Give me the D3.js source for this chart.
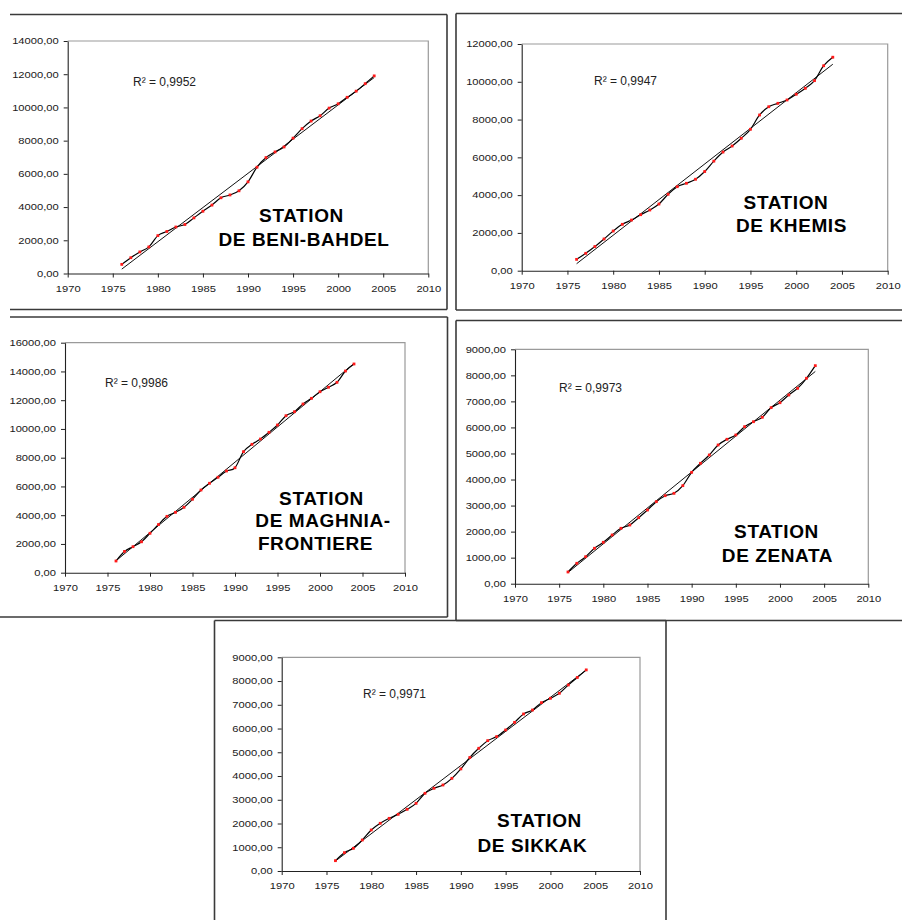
<!DOCTYPE html>
<html>
<head>
<meta charset="utf-8">
<script src="https://cdn.jsdelivr.net/npm/d3@7"></script>
<style>
  body { margin: 0; background: #fff; }
  svg { display: block; }
</style>
</head>
<body>
<svg id="fig" width="902" height="920"></svg>
<script>
// Cumulative totals per station, one value per year
const years = [1976, 1977, 1978, 1979, 1980, 1981, 1982, 1983, 1984, 1985,
               1986, 1987, 1988, 1989, 1990, 1991, 1992, 1993, 1994, 1995,
               1996, 1997, 1998, 1999, 2000, 2001, 2002, 2003, 2004];

const beniBahdel = [550, 950, 1300, 1600, 2280, 2530, 2800, 2950, 3350, 3750,
                    4120, 4560, 4730, 4980, 5520, 6400, 6980, 7320, 7620, 8150,
                    8720, 9180, 9500, 9960, 10220, 10610, 10980, 11430, 11900];

const khemis = [600, 920, 1280, 1680, 2100, 2455, 2680, 2965, 3213, 3530,
                4045, 4448, 4627, 4840, 5250, 5800, 6280, 6600, 7010, 7485,
                8243, 8680, 8860, 9037, 9340, 9655, 10060, 10850, 11300];

const maghnia = [814, 1480, 1810, 2150, 2740, 3350, 3920, 4200, 4550, 5110,
                 5750, 6220, 6640, 7075, 7300, 8420, 8930, 9300, 9765, 10275,
                 10920, 11200, 11735, 12130, 12590, 12900, 13245, 14030, 14520];

const zenata = [450, 783, 1037, 1360, 1590, 1870, 2127, 2254, 2535, 2830,
                3150, 3380, 3470, 3765, 4277, 4623, 4942, 5326, 5545, 5710,
                6030, 6220, 6390, 6760, 6950, 7247, 7504, 7888, 8372];

const sikkak = [435, 772, 955, 1305, 1727, 2008, 2218, 2387, 2597, 2850,
                3272, 3483, 3622, 3903, 4300, 4780, 5168, 5490, 5660, 5940,
                6260, 6613, 6780, 7090, 7273, 7485, 7835, 8150, 8470];

const r2Labels = ["0,9952", "0,9947", "0,9986", "0,9973", "0,9971"];

const stationTitles = [
  ["STATION", "DE BENI-BAHDEL"],
  ["STATION", "DE KHEMIS"],
  ["STATION", "DE MAGHNIA-", "FRONTIERE"],
  ["STATION", "DE ZENATA"],
  ["STATION", "DE SIKKAK"]
];

const yMaxima = [14000, 12000, 16000, 9000, 9000];
const yTickSteps = [2000, 2000, 2000, 1000, 1000];
const xTickYears = [1970, 1975, 1980, 1985, 1990, 1995, 2000, 2005, 2010];
const xDomain = [1970, 2010];

// Page layout for each of the five pasted charts
const layout = [
  { plot: { x0: 67.7, x1: 428.3, y0: 41, y1: 273.5 }, r2: [133, 86],
    titleAt: [[301.5, 221.7], [304, 246]],
    frame: [[10, 14.5, 447, 14.5], [447, 14.5, 447, 309.5], [10, 309.5, 447, 309.5]] },
  { plot: { x0: 521.7, x1: 887.7, y0: 44, y1: 270.7 }, r2: [594, 85],
    titleAt: [[786, 209.3], [791.5, 231.7]],
    frame: [[456, 13.5, 902, 13.5], [456, 13.5, 456, 310], [456, 310, 902, 310]] },
  { plot: { x0: 65, x1: 405, y0: 342.7, y1: 572.7 }, r2: [105, 386.7],
    titleAt: [[321.5, 505], [323, 526.7], [315.5, 550]],
    frame: [[10, 317, 447.5, 317], [447.5, 317, 447.5, 617], [0, 617, 447.5, 617]] },
  { plot: { x0: 515, x1: 868.3, y0: 349.3, y1: 583.7 }, r2: [559, 392],
    titleAt: [[776.5, 538], [777.5, 562]],
    frame: [[456, 320.5, 902, 320.5], [456, 320.5, 456, 620.5], [456, 620.5, 902, 620.5]] },
  { plot: { x0: 281.7, x1: 640, y0: 657.3, y1: 871 }, r2: [363, 698],
    titleAt: [[539.5, 827], [532.5, 851.7]],
    frame: [[214.5, 620.5, 666, 620.5], [214.5, 620.5, 214.5, 920], [666, 620.5, 666, 920]] }
];

const seriesList = [beniBahdel, khemis, maghnia, zenata, sikkak];

const svg = d3.select("#fig");
svg.append("rect").attr("width", 902).attr("height", 920).attr("fill", "#fff");

const fmt = v => d3.format(".2f")(v).replace(".", ",");
const tickFont = "'Liberation Sans', Arial, sans-serif";

// Widen axis labels horizontally, as in the pasted charts
function stretchTicks(g, sx) {
  g.selectAll(".tick text").each(function () {
    const t = d3.select(this);
    const x = +t.attr("x") || 0, y = +t.attr("y") || 0;
    t.attr("x", 0).attr("y", 0)
     .attr("transform", `translate(${x},${y}) scale(${sx},1)`);
  });
}

// Least-squares linear trend
function linearFit(xs, ys) {
  const n = xs.length;
  const mx = d3.mean(xs), my = d3.mean(ys);
  let sxy = 0, sxx = 0;
  for (let i = 0; i < n; i++) {
    sxy += (xs[i] - mx) * (ys[i] - my);
    sxx += (xs[i] - mx) * (xs[i] - mx);
  }
  const slope = sxy / sxx;
  return x => my + slope * (x - mx);
}

seriesList.forEach((values, i) => {
  const L = layout[i];
  const p = L.plot;
  const g = svg.append("g");

  // Frame of the pasted chart
  g.selectAll("line.frame").data(L.frame).join("line")
    .attr("class", "frame")
    .attr("x1", d => d[0]).attr("y1", d => d[1])
    .attr("x2", d => d[2]).attr("y2", d => d[3])
    .attr("stroke", "#3a3a3a").attr("stroke-width", 1.6);

  const x = d3.scaleLinear().domain(xDomain).range([p.x0, p.x1]);
  const y = d3.scaleLinear().domain([0, yMaxima[i]]).range([p.y1, p.y0]);
  const yTicks = d3.range(0, yMaxima[i] + 1, yTickSteps[i]);

  // Plot-area border (top and right in grey)
  g.append("path")
    .attr("d", `M${p.x0},${p.y0}H${p.x1}V${p.y1}`)
    .attr("fill", "none").attr("stroke", "#9a9a9a").attr("stroke-width", 1.2);

  const yAxis = g.append("g")
    .attr("transform", `translate(${p.x0},0)`)
    .call(d3.axisLeft(y).tickValues(yTicks).tickFormat(fmt)
          .tickSizeInner(4).tickSizeOuter(0).tickPadding(5));
  const xAxis = g.append("g")
    .attr("transform", `translate(0,${p.y1})`)
    .call(d3.axisBottom(x).tickValues(xTickYears).tickFormat(d3.format("d"))
          .tickSizeInner(4).tickSizeOuter(0).tickPadding(8));

  [yAxis, xAxis].forEach(a => {
    a.attr("font-family", tickFont).attr("font-size", 8.8);
    a.select(".domain").attr("stroke", "#222").attr("stroke-width", 1.1);
    a.selectAll(".tick line").attr("stroke", "#222");
    a.selectAll(".tick text").attr("fill", "#1a1a1a");
    stretchTicks(a, 1.27);
  });

  // Linear trend over the data range
  const fit = linearFit(years, values);
  const x0 = d3.min(years), x1 = d3.max(years);
  g.append("line")
    .attr("x1", x(x0)).attr("y1", y(fit(x0)))
    .attr("x2", x(x1)).attr("y2", y(fit(x1)))
    .attr("stroke", "#111").attr("stroke-width", 1);

  // Smoothed series line
  const line = d3.line()
    .x((d, j) => x(years[j]))
    .y(d => y(d))
    .curve(d3.curveCardinal);
  g.append("path")
    .datum(values)
    .attr("d", line)
    .attr("fill", "none").attr("stroke", "#000").attr("stroke-width", 1.2);

  // Red markers
  g.selectAll("rect.pt").data(values).join("rect")
    .attr("class", "pt")
    .attr("x", (d, j) => x(years[j]) - 1.4)
    .attr("y", d => y(d) - 1.4)
    .attr("width", 2.8).attr("height", 2.8)
    .attr("fill", "#ff1a1a");

  // R² annotation
  g.append("text")
    .attr("x", L.r2[0]).attr("y", L.r2[1])
    .attr("font-family", tickFont).attr("font-size", 12)
    .attr("fill", "#222")
    .text(`R² = ${r2Labels[i]}`);

  // Station title
  const title = g.append("text")
    .attr("font-family", tickFont).attr("font-size", 19)
    .attr("font-weight", "bold").attr("letter-spacing", 0.6)
    .attr("text-anchor", "middle").attr("fill", "#000");
  stationTitles[i].forEach((s, k) => {
    title.append("tspan")
      .attr("x", L.titleAt[k][0]).attr("y", L.titleAt[k][1])
      .text(s);
  });
});
</script>
</body>
</html>
